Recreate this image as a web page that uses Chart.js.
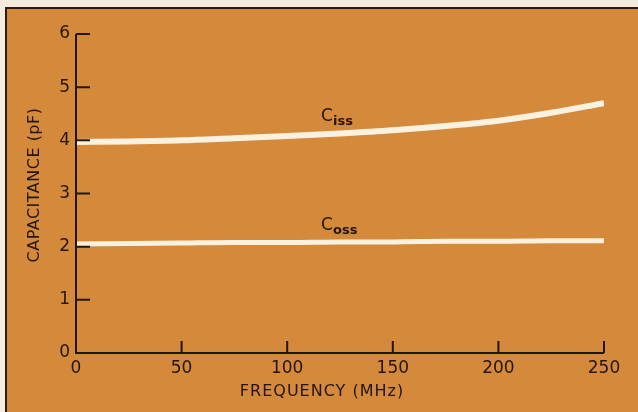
<!DOCTYPE html>
<html lang="en">
<head>
    <meta charset="UTF-8">
    <title>Capacitance vs Frequency</title>
    <script src="https://cdn.jsdelivr.net/npm/chart.js@4/dist/chart.umd.min.js"></script>
    <style>
        body {
            margin: 0;
            background: #f3ebdc;
        }
        canvas {
            display: block;
        }
    </style>
</head>
<body>

<canvas id="chart" width="638" height="412"></canvas>

<script>

// frequency in MHz
var frequency = [0, 25, 50, 75, 100, 125, 150, 175, 200, 225, 250];
// capacitance in pF
var ciss = [3.97, 3.98, 4.00, 4.04, 4.08, 4.13, 4.19, 4.27, 4.37, 4.52, 4.70];
var coss = [2.05, 2.06, 2.07, 2.08, 2.08, 2.09, 2.09, 2.10, 2.10, 2.11, 2.11];

var xTicks = [0, 50, 100, 150, 200, 250];
var yTicks = [0, 1, 2, 3, 4, 5, 6];

var ink = '#22150c';
var orange = '#d5893a';
var cream = '#fbf1e0';
var font = '"DejaVu Sans", sans-serif';

function points(ys) {
    return frequency.map((f, i) => ({ x: f, y: ys[i] }));
}

// panel + hand drawn axes, ticks and titles
var decor = {
    id: 'decor',
    beforeDraw(chart) {
        var c = chart.ctx;
        c.save();
        c.fillStyle = '#f3ebdc';
        c.fillRect(0, 0, 638, 412);
        c.fillStyle = orange;
        c.fillRect(6, 8, 632, 404);
        c.fillStyle = '#2a1a10';
        c.fillRect(5, 7, 633, 2);
        c.fillRect(5, 7, 2, 405);
        c.restore();
    },
    afterDatasetsDraw(chart) {
        var c = chart.ctx;
        var x = chart.scales.x, y = chart.scales.y;
        var x0 = x.getPixelForValue(0), x1 = x.getPixelForValue(250);
        var y0 = y.getPixelForValue(0), y1 = y.getPixelForValue(6);
        c.save();
        c.strokeStyle = ink;
        c.lineWidth = 2;
        c.beginPath();
        c.moveTo(x0, y1);
        c.lineTo(x0, y0);
        c.lineTo(x1, y0);
        yTicks.slice(1).forEach(v => {
            var p = y.getPixelForValue(v);
            c.moveTo(x0, p);
            c.lineTo(x0 + 14, p);
        });
        xTicks.slice(1).forEach(v => {
            var p = x.getPixelForValue(v);
            c.moveTo(p, y0);
            c.lineTo(p, y0 - 12);
        });
        c.stroke();

        c.fillStyle = ink;
        c.textAlign = 'center';
        c.textBaseline = 'middle';
        c.font = '16px ' + font;
        c.letterSpacing = '1px';
        c.fillText('FREQUENCY (MHz)', 322, 392);

        c.save();
        c.translate(35, 185);
        c.rotate(-Math.PI / 2);
        c.letterSpacing = '0.5px';
        c.fillText('CAPACITANCE (pF)', 0, 0);
        c.restore();

        // curve labels
        c.letterSpacing = '0px';
        c.textAlign = 'left';
        c.textBaseline = 'alphabetic';
        [['iss', 121], ['oss', 230]].forEach(([sub, base]) => {
            c.font = '17px ' + font;
            c.fillText('C', 321, base);
            c.font = 'bold 13px ' + font;
            c.fillText(sub, 333, base + 4);
        });
        c.restore();
    }
};

var ctx = document.getElementById('chart').getContext('2d');

var chart = new Chart(ctx, {
    type: 'scatter',
    data: {
        datasets: [
            {
                label: 'Ciss',
                data: points(ciss),
                showLine: true,
                borderColor: cream,
                borderWidth: 6,
                pointRadius: 0,
                cubicInterpolationMode: 'monotone',
            },
            {
                label: 'Coss',
                data: points(coss),
                showLine: true,
                borderColor: cream,
                borderWidth: 5,
                pointRadius: 0,
                cubicInterpolationMode: 'monotone',
            },
        ]
    },
    options: {
        responsive: false,
        animation: false,
        layout: {
            padding: { left: 0, top: 34, right: 34, bottom: 0 },
        },
        plugins: {
            legend: { display: false },
            tooltip: { enabled: false },
        },
        scales: {
            x: {
                type: 'linear',
                min: 0,
                max: 250,
                afterFit: s => { s.height = 59; },
                afterBuildTicks: s => { s.ticks = xTicks.map(v => ({ value: v })); },
                grid: { display: false, drawTicks: false },
                border: { display: false },
                ticks: {
                    color: ink,
                    font: { family: font, size: 17 },
                    padding: 5,
                    maxRotation: 0,
                },
            },
            y: {
                min: 0,
                max: 6,
                afterFit: s => { s.width = 76; },
                afterBuildTicks: s => { s.ticks = yTicks.map(v => ({ value: v })); },
                grid: { display: false, drawTicks: false },
                border: { display: false },
                ticks: {
                    color: ink,
                    font: { family: font, size: 17 },
                    padding: 6,
                },
            },
        },
    },
    plugins: [decor],
});

</script>

</body>
</html>
